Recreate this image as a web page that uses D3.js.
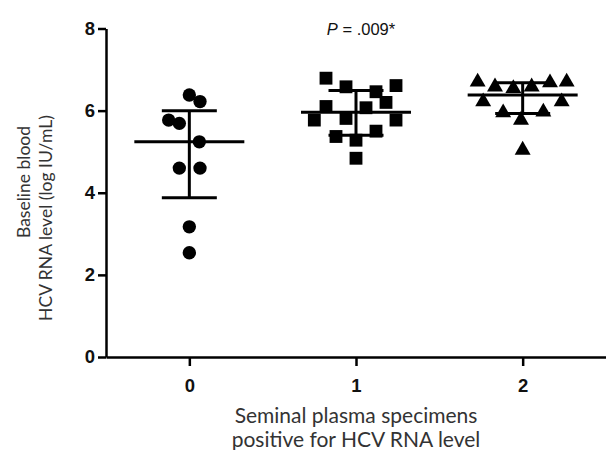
<!DOCTYPE html>
<html>
<head>
<meta charset="utf-8">
<script src="https://cdn.jsdelivr.net/npm/d3@7"></script>
<style>
  html, body { margin: 0; padding: 0; background: #fff; }
  svg { display: block; }
</style>
</head>
<body>
<svg id="chart" width="606" height="450"></svg>
<script>
// ---- data ----
const categories = [0, 1, 2];
const yTicks = [0, 2, 4, 6, 8];

// group 0 : circles
const values0 = [6.38, 6.22, 5.77, 5.69, 5.24, 4.60, 4.60, 3.17, 2.54];
const jitter0 = [0.00, 0.064, -0.124, -0.06, 0.06, -0.06, 0.064, 0.00, 0.00];
// group 1 : squares
const values1 = [6.79, 6.58, 6.46, 6.61, 6.20, 6.10, 6.07, 5.77, 5.81, 5.77, 5.37, 5.50, 5.28, 4.84];
const jitter1 = [-0.18, -0.06, 0.12, 0.24, 0.18, -0.18, 0.06, -0.25, -0.06, 0.24, -0.12, 0.12, 0.00, 0.00];
// group 2 : triangles
const values2 = [6.70, 6.58, 6.54, 6.58, 6.68, 6.70, 6.22, 6.22, 5.95, 5.97, 5.77, 5.04];
const jitter2 = [-0.27, -0.166, -0.056, 0.054, 0.164, 0.264, -0.237, 0.234, -0.117, 0.124, -0.01, 0.00];

// median and interquartile range per group
const medians = [5.24, 5.96, 6.38];
const q1 = [3.88, 5.40, 5.93];
const q3 = [6.00, 6.49, 6.68];

const pText = ".009*";
const yTitle = ["Baseline blood", "HCV RNA level (log IU/mL)"];
const xTitle = ["Seminal plasma specimens", "positive for HCV RNA level"];

// ---- drawing ----
const svg = d3.select("#chart");
const x = d3.scaleLinear().domain([-0.5, 2.5]).range([106, 606]);
const y = d3.scaleLinear().domain([0, 8]).range([357, 28.5]);

const groups = [
  { vals: values0, jit: jitter0, sym: d3.symbolCircle, size: 140 },
  { vals: values1, jit: jitter1, sym: d3.symbolSquare, size: 165 },
  { vals: values2, jit: jitter2, sym: d3.symbolTriangle, size: 110 }
];

// points
groups.forEach((g, gi) => {
  svg.append("g").selectAll("path")
    .data(g.vals.map((v, i) => ({ v, dx: g.jit[i] })))
    .join("path")
    .attr("transform", d => `translate(${x(categories[gi] + d.dx)},${y(d.v)})`)
    .attr("d", d3.symbol().type(g.sym).size(g.size))
    .attr("fill", "#000");
});

// median + IQR
const stats = svg.append("g").attr("stroke", "#000").attr("stroke-width", 3);
categories.forEach((c, i) => {
  stats.append("line")
    .attr("x1", x(c - 0.33)).attr("x2", x(c + 0.33))
    .attr("y1", y(medians[i])).attr("y2", y(medians[i]));
  stats.append("line")
    .attr("x1", x(c)).attr("x2", x(c))
    .attr("y1", y(q1[i])).attr("y2", y(q3[i]));
  [q1[i], q3[i]].forEach(q => {
    stats.append("line")
      .attr("x1", x(c - 0.165)).attr("x2", x(c + 0.165))
      .attr("y1", y(q)).attr("y2", y(q));
  });
});

// axes
const yAxis = svg.append("g")
  .attr("transform", `translate(${x(-0.5)},0)`)
  .call(d3.axisLeft(y).tickValues(yTicks).tickFormat(d3.format("d"))
    .tickSize(8).tickSizeOuter(0).tickPadding(3));
const xAxis = svg.append("g")
  .attr("transform", `translate(0,${y(0)})`)
  .call(d3.axisBottom(x).tickValues(categories).tickFormat(d3.format("d"))
    .tickSize(9).tickSizeOuter(0).tickPadding(13));

[yAxis, xAxis].forEach(a => {
  a.select(".domain").attr("stroke", "#000").attr("stroke-width", 2.5);
  a.selectAll(".tick line").attr("stroke", "#000").attr("stroke-width", 2.5);
  a.selectAll(".tick text")
    .attr("font-family", "'Liberation Sans', Arial, sans-serif")
    .attr("font-weight", "bold")
    .attr("font-size", 18.5)
    .attr("fill", "#111");
});

// P value
const pt = svg.append("text")
  .attr("x", 361).attr("y", 35)
  .attr("text-anchor", "middle")
  .attr("font-family", "'Liberation Sans', Arial, sans-serif")
  .attr("font-size", 16.5)
  .attr("fill", "#111");
pt.append("tspan").attr("font-style", "italic").text("P");
pt.append("tspan").text(" = " + pText);

// axis titles
const titleFont = "Lato, 'Open Sans', sans-serif";
const xt = svg.append("text")
  .attr("text-anchor", "middle")
  .attr("font-family", titleFont)
  .attr("font-size", 21)
  .attr("fill", "#333");
xTitle.forEach((t, i) => {
  xt.append("tspan").attr("x", 356).attr("y", 423 + i * 24).text(t);
});

const ytG = svg.append("g").attr("transform", "translate(0,218) rotate(-90)");
yTitle.forEach((t, i) => {
  ytG.append("text")
    .attr("x", i === 0 ? 36 : 0)
    .attr("y", 30 + i * 21.5)
    .attr("text-anchor", "middle")
    .attr("font-family", titleFont)
    .attr("font-size", 17.5)
    .attr("fill", "#333")
    .text(t);
});
</script>
</body>
</html>
